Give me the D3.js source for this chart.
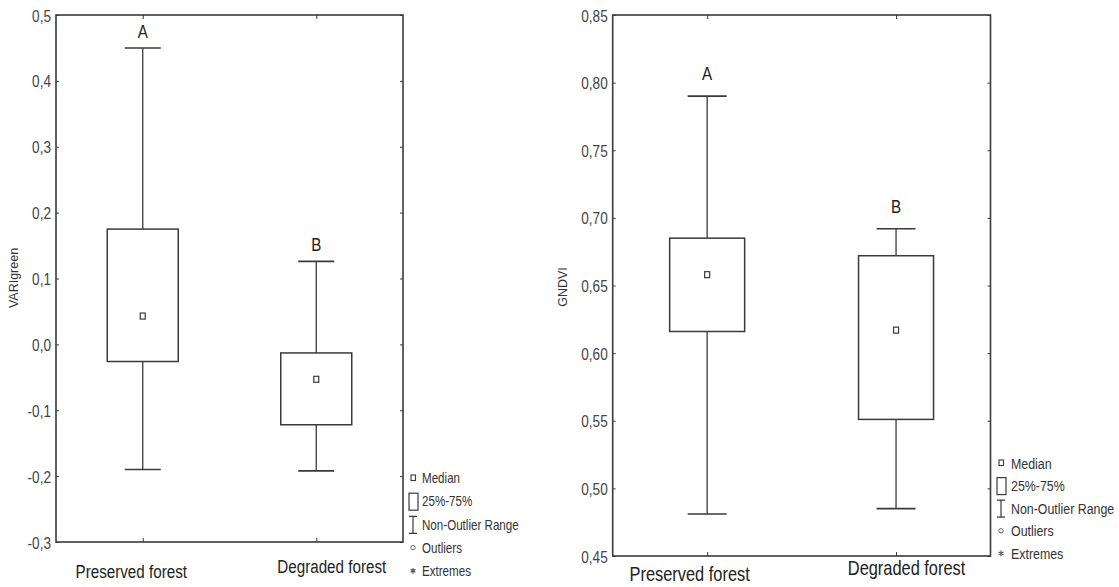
<!DOCTYPE html>
<html>
<head>
<meta charset="utf-8">
<script src="https://cdn.jsdelivr.net/npm/d3@7"></script>
<style>
  body { margin: 0; background: #fff; }
  svg { display: block; }
  .narrow { font-family: "Liberation Sans", Arial, sans-serif; }
</style>
</head>
<body>
<script>
// groups and letters shown above the whiskers
const groups = ["Preserved forest", "Degraded forest"];
const letters = ["A", "B"];

// VARIgreen box stats
const variMin = [-0.190, -0.192];
const variQ1 = [-0.026, -0.122];
const variMedian = [0.043, -0.053];
const variQ3 = [0.175, -0.013];
const variMax = [0.450, 0.126];
const variTicks = [0.5, 0.4, 0.3, 0.2, 0.1, 0.0, -0.1, -0.2, -0.3];

// GNDVI box stats
const gndviMin = [0.481, 0.485];
const gndviQ1 = [0.616, 0.551];
const gndviMedian = [0.658, 0.617];
const gndviQ3 = [0.685, 0.672];
const gndviMax = [0.790, 0.692];
const gndviTicks = [0.85, 0.80, 0.75, 0.70, 0.65, 0.60, 0.55, 0.50, 0.45];

const legendLabels = ["Median", "25%-75%", "Non-Outlier Range", "Outliers", "Extremes"];

const W = 1119, H = 587;
const ink = "#3a3a3a";
const SX = 0.8; // squeeze to mimic a narrow face

const svg = d3.select("body").append("svg")
    .attr("width", W)
    .attr("height", H)
    .attr("viewBox", [0, 0, W, H]);

// move x/y into a transform and squeeze horizontally
function squeeze(sel) {
    sel.each(function () {
        const t = d3.select(this);
        const tx = +t.attr("x") || 0, ty = +t.attr("y") || 0;
        t.attr("x", 0).attr("y", 0)
            .attr("transform", `translate(${tx},${ty}) scale(${SX},1)`);
    });
}

function drawPanel(p) {
    const g = svg.append("g");
    const y = d3.scaleLinear([p.ticks[p.ticks.length - 1], p.ticks[0]], [p.y1, p.y0]);
    const x = d3.scalePoint(groups, [p.x0, p.x1]).padding(0.5);
    const fmt = v => d3.format(p.fmt)(v).replace(".", ",").replace("−", "-");

    const rows = groups.map((name, i) => ({
        name, letter: letters[i],
        min: p.min[i], q1: p.q1[i], med: p.med[i], q3: p.q3[i], max: p.max[i]
    }));

    // frame
    g.append("rect")
        .attr("x", p.x0).attr("y", p.y0)
        .attr("width", p.x1 - p.x0).attr("height", p.y1 - p.y0)
        .attr("fill", "none").attr("stroke", ink).attr("stroke-width", 1.6);

    // y axis, ticks inside
    g.append("g")
        .attr("transform", `translate(${p.x0},0)`)
        .call(d3.axisLeft(y).tickValues(p.ticks).tickFormat(fmt).tickSizeInner(-3).tickSizeOuter(0).tickPadding(7))
        .call(a => a.select(".domain").remove())
        .call(a => a.selectAll(".tick line").attr("stroke", ink))
        .call(a => a.selectAll(".tick text")
            .attr("class", "narrow").attr("font-size", p.tickFont).attr("fill", "#444")
            .attr("x", -5).attr("dy", null).attr("y", p.tickFont * 0.36)
            .call(squeeze));

    // right side small ticks
    g.append("g")
        .attr("transform", `translate(${p.x1},0)`)
        .call(d3.axisRight(y).tickValues(p.ticks).tickFormat("").tickSize(-3).tickSizeOuter(0))
        .call(a => a.select(".domain").remove())
        .call(a => a.selectAll(".tick line").attr("stroke", ink));

    // bottom axis with category labels
    g.append("g")
        .attr("transform", `translate(0,${p.y1})`)
        .call(d3.axisBottom(x).tickSizeInner(-4).tickSizeOuter(0).tickPadding(0))
        .call(a => a.select(".domain").remove())
        .call(a => a.selectAll(".tick line").attr("stroke", ink))
        .call(a => a.selectAll(".tick text")
            .attr("class", "narrow")
            .attr("font-size", p.catFont)
            .attr("fill", "#222")
            .attr("dy", null)
            .attr("y", (d, i) => p.catDy[i])
            .attr("x", (d, i) => p.catDx[i])
            .call(squeeze));

    // top small ticks
    g.append("g")
        .attr("transform", `translate(0,${p.y0})`)
        .call(d3.axisTop(x).tickFormat("").tickSize(-4).tickSizeOuter(0))
        .call(a => a.select(".domain").remove())
        .call(a => a.selectAll(".tick line").attr("stroke", ink));

    // y axis title
    g.append("text")
        .attr("transform", `translate(${p.titleX},${p.titleY}) rotate(-90)`)
        .attr("text-anchor", "middle")
        .attr("font-family", "Liberation Sans, Arial, sans-serif")
        .attr("font-size", 12.5)
        .attr("fill", "#333")
        .text(p.title);

    const box = g.selectAll(".box").data(rows).join("g").attr("class", "box");

    // whiskers
    box.append("line")
        .attr("x1", d => x(d.name)).attr("x2", d => x(d.name))
        .attr("y1", d => y(d.max)).attr("y2", d => y(d.q3))
        .attr("stroke", ink).attr("stroke-width", 1.3);
    box.append("line")
        .attr("x1", d => x(d.name)).attr("x2", d => x(d.name))
        .attr("y1", d => y(d.q1)).attr("y2", d => y(d.min))
        .attr("stroke", ink).attr("stroke-width", 1.3);
    // caps
    ["max", "min"].forEach(k => {
        box.append("line")
            .attr("x1", d => x(d.name) - p.capW / 2).attr("x2", d => x(d.name) + p.capW / 2)
            .attr("y1", d => y(d[k])).attr("y2", d => y(d[k]))
            .attr("stroke", ink).attr("stroke-width", 1.6);
    });
    // box
    box.append("rect")
        .attr("x", d => x(d.name) - p.boxW / 2)
        .attr("y", d => y(d.q3))
        .attr("width", p.boxW)
        .attr("height", d => y(d.q1) - y(d.q3))
        .attr("fill", "#fff").attr("stroke", ink).attr("stroke-width", 1.5);
    // median
    box.append("rect")
        .attr("x", d => x(d.name) - 2.5)
        .attr("y", d => y(d.med) - 3)
        .attr("width", 5).attr("height", 6)
        .attr("fill", "#fff").attr("stroke", ink).attr("stroke-width", 1.2);
    // letters
    box.append("text")
        .attr("class", "narrow")
        .attr("x", d => x(d.name))
        .attr("y", d => y(d.max) - p.letterGap)
        .attr("text-anchor", "middle")
        .attr("font-size", 19)
        .attr("fill", "#222")
        .text(d => d.letter)
        .call(squeeze);

    // legend
    const lg = g.append("g").attr("transform", `translate(${p.legX},${p.legY})`);
    legendLabels.forEach((lab, i) => {
        const ly = i * p.legStep;
        const row = lg.append("g").attr("transform", `translate(0,${ly})`);
        if (i === 0) {
            row.append("rect").attr("x", -2).attr("y", -3).attr("width", 4.5).attr("height", 5.5)
                .attr("fill", "#fff").attr("stroke", ink).attr("stroke-width", 1.1);
        } else if (i === 1) {
            row.append("rect").attr("x", -4).attr("y", -8).attr("width", 9).attr("height", 17)
                .attr("fill", "#fff").attr("stroke", ink).attr("stroke-width", 1.2);
        } else if (i === 2) {
            const ip = d3.path();
            ip.moveTo(-4, -8); ip.lineTo(4, -8);
            ip.moveTo(0, -8); ip.lineTo(0, 9);
            ip.moveTo(-4, 9); ip.lineTo(4, 9);
            row.append("path").attr("d", ip.toString())
                .attr("fill", "none").attr("stroke", ink).attr("stroke-width", 1.2);
        } else if (i === 3) {
            row.append("circle").attr("r", 2.2)
                .attr("fill", "#fff").attr("stroke", "#666").attr("stroke-width", 1);
        } else {
            row.append("path")
                .attr("d", d3.symbol(d3.symbolAsterisk, 22)())
                .attr("fill", "none").attr("stroke", "#555").attr("stroke-width", 1.2);
        }
        row.append("text")
            .attr("class", "narrow")
            .attr("x", p.legTextDx)
            .attr("y", p.legFont * 0.36)
            .attr("font-size", p.legFont)
            .attr("fill", "#333")
            .text(lab)
            .call(squeeze);
    });
}

drawPanel({
    min: variMin, q1: variQ1, med: variMedian, q3: variQ3, max: variMax,
    ticks: variTicks, fmt: ".1f", title: "VARIgreen",
    x0: 56, x1: 403, y0: 15, y1: 542,
    boxW: 71, capW: 36, letterGap: 10,
    tickFont: 17, catFont: 19, catDx: [-12, 15], catDy: [36, 31],
    titleX: 18, titleY: 278,
    legX: 413, legY: 478, legStep: 23.2, legTextDx: 9, legFont: 14.5
});

drawPanel({
    min: gndviMin, q1: gndviQ1, med: gndviMedian, q3: gndviQ3, max: gndviMax,
    ticks: gndviTicks, fmt: ".2f", title: "GNDVI",
    x0: 612.7, x1: 990.5, y0: 15, y1: 556,
    boxW: 75, capW: 39, letterGap: 16,
    tickFont: 17, catFont: 20.5, catDx: [-18, 10], catDy: [25, 19],
    titleX: 567, titleY: 287,
    legX: 1001, legY: 463, legStep: 22.6, legTextDx: 10, legFont: 15.5
});
</script>
</body>
</html>
